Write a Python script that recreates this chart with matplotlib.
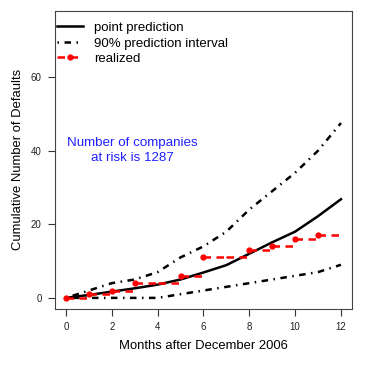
from matplotlib import pyplot as plt
from matplotlib.lines import Line2D
import numpy as np

# data
months = np.arange(0, 13)
point_pred = [0, 0.8, 1.7, 2.6, 3.6, 5.0, 6.9, 8.9, 12.0, 15.1, 18.0, 22.2, 26.8]
upper_pi = [0, 2, 4, 5, 7, 11, 14, 18, 24, 29, 34, 40, 47.5]
lower_pi = [0, 0, 0, 0, 0, 1, 2, 3, 4, 5, 6, 7, 9]
realized = [0, 1, 2, 4, 4, 6, 11, 11, 13, 14, 16, 17, 17]

xticks = [0, 2, 4, 6, 8, 10, 12]
yticks = [0, 20, 40, 60]

plt.rcParams['font.family'] = ['Liberation Sans', 'DejaVu Sans']

#--------------------------------------------------------------------------------

fig = plt.figure(figsize=(3.74, 3.74), dpi=100)
ax = fig.add_axes([0.147, 0.174, 0.794, 0.797])

dotdash = (0, (0.6, 2.2, 2.6, 2.2))
ax.plot(months, point_pred, '-', color='black', lw=1.8)
ax.plot(months, upper_pi, color='black', lw=1.8, linestyle=dotdash)
ax.plot(months, lower_pi, color='black', lw=1.8, linestyle=dotdash)

# realized: horizontal dashed steps, dot where the count changes
real = np.array(realized)
ax.hlines(real[:-1], months[:-1], months[1:], colors='red', lw=1.8,
          linestyles=(0, (3, 2.2)))
jump = np.r_[True, np.diff(real) > 0]
ax.plot(months[jump], real[jump], 'o', color='red', markersize=3.5)

ax.text(2.9, 40, 'Number of companies\nat risk is 1287', color='#2020ff',
        fontsize=9.6, ha='center', va='center', linespacing=1.3)

ax.set_xlim(-0.48, 12.48)
ax.set_ylim(-3, 78)
ax.set_xticks(xticks)
ax.set_yticks(yticks)
ax.tick_params(labelsize=7, length=5, pad=4.5, colors='#333333', labelcolor='#222222')
for s in ax.spines.values():
    s.set_color('#444444')
    s.set_linewidth(0.8)

ax.set_xlabel('Months after December 2006', fontsize=9.4, labelpad=6)
ax.set_ylabel('Cumulative Number of Defaults', fontsize=9.4)
ax.yaxis.set_label_coords(-0.105, 0.5)

handles = [Line2D([], [], color='black', lw=1.8),
           Line2D([], [], color='black', lw=1.8, linestyle=dotdash),
           Line2D([], [], color='red', lw=1.8, linestyle=(0, (3, 2.2)),
                  marker='o', markersize=3.5, markevery=[1])]
labels = ['point prediction', '90% prediction interval', 'realized']
ax.legend(handles, labels, loc='upper left', bbox_to_anchor=(-0.02, 0.99),
          frameon=False, fontsize=9.5, handlelength=2.0, handletextpad=0.8,
          labelspacing=0.25, borderaxespad=0.2)

plt.savefig('out.png', dpi=100)
